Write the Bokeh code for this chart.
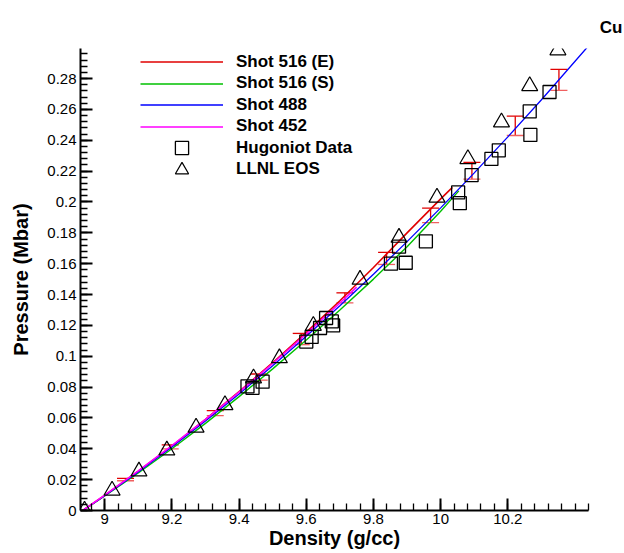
import numpy as np
from bokeh.plotting import figure
from bokeh.models import (ColumnDataSource, Whisker, TeeHead, FixedTicker,
                          CustomJSTickFormatter, Legend, LegendItem, Range1d)
from bokeh.embed import file_html
from bokeh.resources import INLINE

# ---------------- data ----------------
red_x = [8.935, 9.0, 9.1, 9.2, 9.3, 9.4, 9.5, 9.6, 9.7, 9.8, 9.9, 10.0, 10.035]
red_y = [0.0, 0.0098, 0.0255, 0.0418, 0.0590, 0.0770, 0.0958, 0.1155, 0.1360, 0.1575, 0.1800, 0.2020, 0.2095]

green_x = [8.935, 9.0, 9.1, 9.2, 9.3, 9.4, 9.5, 9.6, 9.7, 9.8, 9.9, 10.0, 10.054]
green_y = [0.0, 0.0094, 0.0243, 0.0400, 0.0565, 0.0738, 0.0918, 0.1105, 0.1300, 0.1500, 0.1710, 0.1940, 0.2072]

blue_x = [8.935, 9.0, 9.1, 9.2, 9.3, 9.4, 9.5, 9.6, 9.7, 9.8, 9.9, 10.0, 10.1, 10.2, 10.3, 10.435]
blue_y = [0.0, 0.0096, 0.0250, 0.0411, 0.0580, 0.0756, 0.0939, 0.1129, 0.1327, 0.1531, 0.1743, 0.1962, 0.2189, 0.2422, 0.2663, 0.3000]

magenta_x = [8.935, 9.0, 9.1, 9.2, 9.3, 9.4, 9.5, 9.6, 9.7, 9.75]
magenta_y = [0.0, 0.0100, 0.0257, 0.0420, 0.0590, 0.0768, 0.0953, 0.1145, 0.1345, 0.1448]

err_x = [9.062, 9.195, 9.329, 9.460, 9.585, 9.715, 9.839, 9.970, 10.093, 10.222, 10.352]
err_lo = [0.0193, 0.0400, 0.0615, 0.0845, 0.1075, 0.1346, 0.1595, 0.1866, 0.2148, 0.2431, 0.2723]
err_hi = [0.0208, 0.0425, 0.0648, 0.0885, 0.1148, 0.1411, 0.1673, 0.1960, 0.2257, 0.2556, 0.2860]

hug_x = [9.425, 9.440, 9.470, 9.600, 9.616, 9.641, 9.659, 9.676, 9.680, 9.852, 9.876,
         9.896, 9.956, 10.052, 10.057, 10.092, 10.151, 10.173, 10.265, 10.267, 10.324]
hug_y = [0.0805, 0.0795, 0.0835, 0.1095, 0.1125, 0.1183, 0.1248, 0.1226, 0.1200, 0.1600, 0.1710,
         0.1606, 0.1745, 0.2062, 0.1992, 0.2174, 0.2279, 0.2335, 0.2587, 0.2435, 0.2713]

eos_x = [8.940, 9.022, 9.102, 9.185, 9.272, 9.358, 9.443, 9.520, 9.621, 9.760, 9.876,
         9.989, 10.081, 10.181, 10.265, 10.349]
eos_y = [0.0, 0.0130, 0.0254, 0.0390, 0.0538, 0.0684, 0.0857, 0.0988, 0.1198, 0.1497, 0.1769,
         0.2029, 0.2279, 0.2517, 0.2752, 0.2984]

x_ticks = [9.0, 9.2, 9.4, 9.6, 9.8, 10.0, 10.2]
y_ticks = [0.0, 0.02, 0.04, 0.06, 0.08, 0.10, 0.12, 0.14, 0.16, 0.18, 0.20, 0.22, 0.24, 0.26, 0.28]

labels = ["Shot 516 (E)", "Shot 516 (S)", "Shot 488", "Shot 452", "Hugoniot Data", "LLNL EOS"]

# ---------------- figure ----------------
FONT = "Liberation Sans"
p = figure(width=624, height=553, output_backend="svg", toolbar_location=None,
           x_range=Range1d(8.928, 10.44), y_range=Range1d(0.0, 0.2995),
           min_border_left=80, min_border_right=36, min_border_top=48, min_border_bottom=43)
p.outline_line_color = None
p.xgrid.visible = False
p.ygrid.visible = False
p.background_fill_color = "white"
p.border_fill_color = "white"

p.title.text = "Cu"
p.title.align = "right"
p.title.offset = -34
p.title.vertical_align = "middle"
p.title.standoff = 22
p.title.text_font = FONT
p.title.text_font_size = "17px"
p.title.text_font_style = "bold"
p.title.text_color = "black"

r_green = p.line(green_x, green_y, line_color="#00c000", line_width=1.4)
r_red = p.line(red_x, red_y, line_color="#e00000", line_width=1.6)
r_blue = p.line(blue_x, blue_y, line_color="#0000ff", line_width=1.3)
r_mag = p.line(magenta_x, magenta_y, line_color="#ff00ff", line_width=1.6)

esrc = ColumnDataSource(dict(x=err_x, lo=err_lo, hi=err_hi))
wh = Whisker(source=esrc, base="x", lower="lo", upper="hi", dimension="height",
             line_color="#e00000", line_width=1.3,
             upper_head=TeeHead(size=17, line_color="#e00000", line_width=1.3),
             lower_head=TeeHead(size=17, line_color="#f06060", line_width=1.3))
p.add_layout(wh)

r_sq = p.scatter(hug_x, hug_y, marker="square", size=13, fill_color=None,
                 line_color="black", line_width=1.3)
r_tri = p.scatter(eos_x, eos_y, marker="triangle", size=16, fill_color=None,
                  line_color="black", line_width=1.2)

# axes
fmt_y = CustomJSTickFormatter(code="return tick.toFixed(2).replace(/0+$/,'').replace(/\\.$/,'');")
fmt_x = CustomJSTickFormatter(code="return tick.toFixed(1).replace(/0+$/,'').replace(/\\.$/,'');")
p.xaxis.ticker = FixedTicker(ticks=x_ticks, minor_ticks=list(np.round(np.arange(8.92, 10.45, 0.04), 3)))
p.yaxis.ticker = FixedTicker(ticks=y_ticks, minor_ticks=list(np.round(np.arange(0.0, 0.30, 0.004), 4)))
p.xaxis.formatter = fmt_x
p.yaxis.formatter = fmt_y
for ax in (p.xaxis[0], p.yaxis[0]):
    ax.axis_line_width = 2
    ax.axis_line_color = "black"
    ax.major_tick_in = 12
    ax.major_tick_out = 0
    ax.minor_tick_in = 7
    ax.minor_tick_out = 0
    ax.major_tick_line_width = 2
    ax.minor_tick_line_width = 1.3
    ax.major_label_text_font = FONT
    ax.major_label_text_font_size = "15px"
    ax.major_label_text_color = "black"
    ax.axis_label_text_font = FONT
    ax.axis_label_text_font_size = "20px"
    ax.axis_label_text_font_style = "bold"
    ax.axis_label_text_color = "black"
p.xaxis.axis_label = "Density (g/cc)"
p.yaxis.axis_label = "Pressure (Mbar)"
p.xaxis.major_label_standoff = 3
p.xaxis.axis_label_standoff = 0
p.yaxis.major_label_standoff = 4
p.yaxis.axis_label_standoff = 12

# legend: one single-item legend per row so that rows can be tight while markers stay large
renderers = [r_red, r_green, r_blue, r_mag, r_sq, r_tri]
row_top = 61.5      # centre of first row, page pixels
row_step = 21.5
frame_h = 462
for i, (lab, rr) in enumerate(zip(labels, renderers)):
    centre_from_top = (row_top - 48) + i * row_step
    vy = frame_h - centre_from_top - 16.5
    lg = Legend(items=[LegendItem(label=lab, renderers=[rr])],
                location=(60, vy), orientation="vertical",
                glyph_width=83, glyph_height=33, spacing=0, padding=0, margin=0,
                label_standoff=13, label_height=20,
                label_text_font=FONT, label_text_font_size="17px",
                label_text_font_style="bold", label_text_color="black",
                border_line_alpha=0, background_fill_alpha=0)
    p.add_layout(lg)

open("out.html", "w").write(file_html(p, INLINE))
